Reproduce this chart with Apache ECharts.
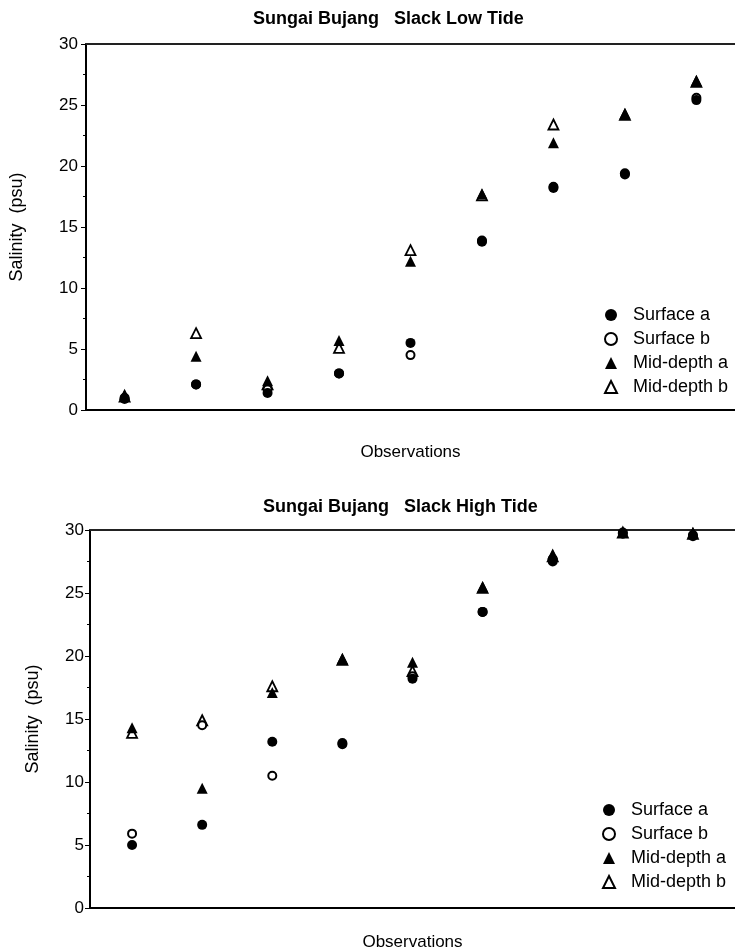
<!DOCTYPE html>
<html>
<head>
<meta charset="utf-8">
<script src="https://cdn.jsdelivr.net/npm/echarts@6/dist/echarts.min.js"></script>
<style>
  html, body { margin: 0; padding: 0; background: #fff; }
  #chart { width: 735px; height: 952px; }
</style>
</head>
<body>
<div id="chart"></div>
<script>
// observation index (x position)
const obs = [1, 2, 3, 4, 5, 6, 7, 8, 9]
const seriesNames = ['Surface a', 'Surface b', 'Mid-depth a', 'Mid-depth b']
const yTicks = [0, 5, 10, 15, 20, 25, 30]

// Slack Low Tide salinity (psu)
const lowSurfaceA = [0.9, 2.1, 1.4, 3.0, 5.5, 13.8, 18.2, 19.4, 25.4]
const lowSurfaceB = [1.0, 2.1, 1.7, 3.0, 4.5, 13.9, 18.3, 19.3, 25.6]
const lowMidA = [1.3, 4.4, 2.4, 5.7, 12.2, 17.7, 21.9, 24.3, 27.0]
const lowMidB = [1.1, 6.3, 2.1, 5.1, 13.1, 17.6, 23.4, 24.2, 26.9]

// Slack High Tide salinity (psu)
const highSurfaceA = [5.0, 6.6, 13.2, 13.1, 18.2, 23.5, 27.5, 29.7, 29.5]
const highSurfaceB = [5.9, 14.5, 10.5, 13.0, 18.4, 23.5, 27.7, 29.8, 29.6]
const highMidA = [14.3, 9.5, 17.1, 19.8, 19.5, 25.5, 28.1, 29.8, 29.8]
const highMidB = [13.9, 14.9, 17.6, 19.7, 18.8, 25.4, 27.9, 29.8, 29.7]

const font = 'Arial, "Liberation Sans", sans-serif'

// filled marks sit on top of the open ones, like in the scan
const styles = [
    { symbol: 'circle', symbolSize: 10, z: 5, itemStyle: { color: '#000', opacity: 1 } },
    { symbol: 'circle', symbolSize: 8, z: 3, itemStyle: { color: '#fff', borderColor: '#000', borderWidth: 2, opacity: 1 } },
    { symbol: 'triangle', symbolSize: 11, z: 4, itemStyle: { color: '#000', opacity: 1 } },
    { symbol: 'triangle', symbolSize: 10, z: 2, itemStyle: { color: '#fff', borderColor: '#000', borderWidth: 1.8, opacity: 1 } }
]

const toPoints = arr => obs.map((x, i) => [x, arr[i]])

const makeSeries = (arrays, idx) => arrays.map((arr, i) => ({
    name: seriesNames[i],
    type: 'scatter',
    xAxisIndex: idx * 2,
    yAxisIndex: idx,
    data: toPoints(arr),
    symbol: styles[i].symbol,
    symbolSize: styles[i].symbolSize,
    itemStyle: styles[i].itemStyle,
    z: styles[i].z
}))

const xAxisCfg = (idx, min, max, gap) => ({
    type: 'value',
    gridIndex: idx,
    min: min,
    max: max,
    name: 'Observations',
    nameLocation: 'middle',
    nameGap: gap,
    nameTextStyle: { fontFamily: font, fontSize: 17, color: '#000' },
    axisLine: { lineStyle: { color: '#000', width: 2 } },
    axisTick: { show: false },
    axisLabel: { show: false },
    splitLine: { show: false }
})

// plain line along the top of each frame
const topLineCfg = (idx, min, max) => ({
    type: 'value',
    gridIndex: idx,
    position: 'top',
    min: min,
    max: max,
    axisLine: { show: true, lineStyle: { color: '#222', width: 2 } },
    axisTick: { show: false },
    axisLabel: { show: false },
    splitLine: { show: false }
})

const yAxisCfg = (idx, gap, margin) => ({
    type: 'value',
    gridIndex: idx,
    min: yTicks[0],
    max: yTicks[yTicks.length - 1],
    interval: 5,
    name: 'Salinity  (psu)',
    nameLocation: 'middle',
    nameRotate: 90,
    nameGap: gap,
    nameTextStyle: { fontFamily: font, fontSize: 18, color: '#000' },
    axisLine: { show: true, lineStyle: { color: '#000', width: 2 } },
    axisTick: { show: true, length: 5, lineStyle: { color: '#000', width: 1 } },
    minorTick: { show: true, splitNumber: 2, length: 3, lineStyle: { color: '#000', width: 1 } },
    axisLabel: { fontFamily: font, fontSize: 17, color: '#000', margin: margin },
    splitLine: { show: false }
})

const legendCfg = (left, top) => ({
    data: seriesNames,
    orient: 'vertical',
    left: left,
    top: top,
    itemWidth: 12,
    itemHeight: 12,
    itemGap: 0,
    selectedMode: false,
    textStyle: { fontFamily: font, fontSize: 18, color: '#000', lineHeight: 24, padding: [0, 0, 0, 11] }
})

const chart = echarts.init(document.getElementById('chart'))
chart.setOption({
    animation: false,
    backgroundColor: '#fff',
    title: [
        { text: 'Sungai Bujang   Slack Low Tide', left: 248, top: 5,
          textStyle: { fontFamily: font, fontSize: 18, fontWeight: 'bold', color: '#000' } },
        { text: 'Sungai Bujang   Slack High Tide', left: 258, top: 493,
          textStyle: { fontFamily: font, fontSize: 18, fontWeight: 'bold', color: '#000' } }
    ],
    legend: [legendCfg(599, 298), legendCfg(597, 793)],
    grid: [
        { left: 84, top: 44, height: 366, right: 0 },
        { left: 90, top: 530, height: 378, right: 0 }
    ],
    xAxis: [
        xAxisCfg(0, 0.46, 9.54, 34), topLineCfg(0, 0.46, 9.54),
        xAxisCfg(1, 0.4, 9.6, 26), topLineCfg(1, 0.4, 9.6)
    ],
    yAxis: [yAxisCfg(0, 60, 8), yAxisCfg(1, 48, 6)],
    series: [
        ...makeSeries([lowSurfaceA, lowSurfaceB, lowMidA, lowMidB], 0),
        ...makeSeries([highSurfaceA, highSurfaceB, highMidA, highMidB], 1)
    ]
})
</script>
</body>
</html>
